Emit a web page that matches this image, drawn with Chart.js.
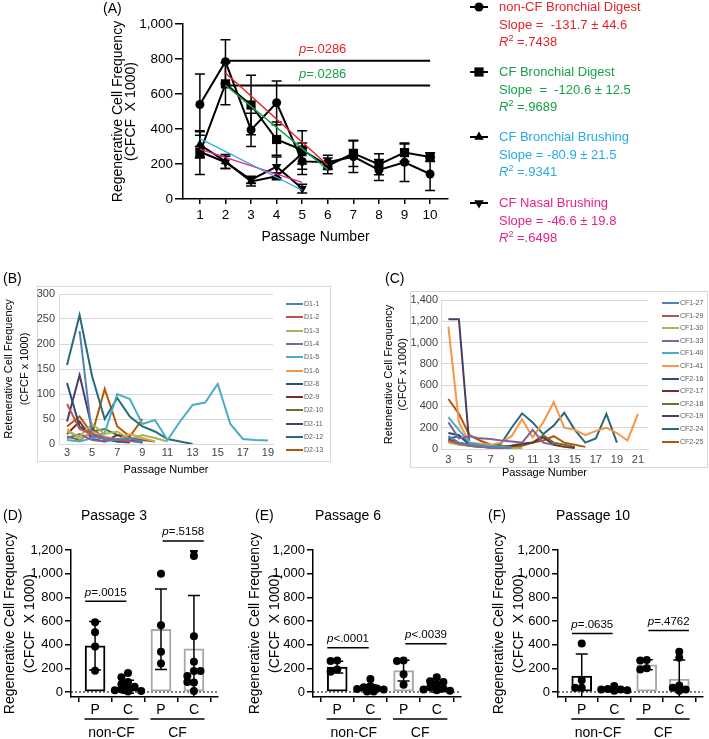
<!DOCTYPE html>
<html>
<head>
<meta charset="utf-8">
<script src="https://cdn.jsdelivr.net/npm/chart.js@4.4.1/dist/chart.umd.min.js"></script>
<style>
  body { margin: 0; background: #fff; font-family: "Liberation Sans", Arial, sans-serif; }
  #page { position: relative; width: 709px; height: 739px; overflow: hidden; }
  canvas { position: absolute; }
  .t { position: absolute; white-space: pre; line-height: 14px; font-size: 13px; }
  .t sup { font-size: 9px; vertical-align: 5px; line-height: 0; }
  .lab { position: absolute; white-space: pre; font-size: 14px; line-height: 16px; }
  .lg { position: absolute; white-space: pre; font-size: 7px; line-height: 8px; color: #595959; }
  .lgline { position: absolute; height: 2px; }
</style>
</head>
<body>
<div id="page">
  <canvas id="chartA" width="400" height="250" style="left:100px;top:0"></canvas>
  <canvas id="chartB" width="335" height="210" style="left:0;top:270px"></canvas>
  <canvas id="chartC" width="329" height="210" style="left:380px;top:270px"></canvas>
  <canvas id="chartD" width="230" height="239" style="left:0;top:500px"></canvas>
  <canvas id="chartE" width="230" height="239" style="left:235px;top:500px"></canvas>
  <canvas id="chartF" width="239" height="239" style="left:470px;top:500px"></canvas>

  <div class="lab" style="left:103px;top:0">(A)</div>
  <div class="lab" style="left:3px;top:270px">(B)</div>
  <div class="lab" style="left:385px;top:270px">(C)</div>
  <div class="lab" style="left:3px;top:507px">(D)</div>
  <div class="lab" style="left:255px;top:507px">(E)</div>
  <div class="lab" style="left:488px;top:507px">(F)</div>
  <div class="lab" style="left:64px;top:507px;width:100px;text-align:center">Passage 3</div>
  <div class="lab" style="left:298px;top:507px;width:100px;text-align:center">Passage 6</div>
  <div class="lab" style="left:543px;top:507px;width:100px;text-align:center">Passage 10</div>
  <div id="legendA"></div>
  <div id="legendB"></div>
  <div id="legendC"></div>
</div>
<script>
const FONT = '"Liberation Sans", Arial, sans-serif';
Chart.defaults.font.family = FONT;
Chart.defaults.color = '#000';
Chart.defaults.animation = false;

// ---------- (A) mean frequency per passage ----------
const passagesA = [1, 2, 3, 4, 5, 6, 7, 8, 9, 10];
const nonCfDigest   = [540, 785, 395, 550, 215, 210, 242, 166, 210, 143];
const nonCfDigestSd = [175, 125, 95, 125, 75, 40, 90, 60, 110, 95];
const cfDigest      = [265, 658, 537, 340, 280, 190, 261, 198, 265, 240];
const cfDigestSd    = [125, 120, 170, 100, 110, 45, 75, 60, 50, 25];
const cfBrushing    = [310, 215, 100, 130, 260];
const cfBrushingSd  = [75, 40, 25, 20, 60];
const nasalBrushing   = [270, 210, 110, 185, 60];
const nasalBrushingSd = [30, 35, 20, 65, 25];
// regression fits, passage range and fitted values at the ends
const fitNonCfX = [2, 6],   fitNonCfY = [720, 193];
const fitCfX = [2, 6],      fitCfY = [650, 168];
const fitBrushX = [1, 5],   fitBrushY = [345, 50];
const fitNasalX = [1, 5],   fitNasalY = [285, 95];
// significance bars
const sigX = [2, 10];
const sigY = [790, 649];
const sigLabels = ['p=.0286', 'p=.0286'];

// ---------- (B) non-CF donors ----------
const passagesB = [3, 4, 5, 6, 7, 8, 9, 10, 11, 12, 13, 14, 15, 16, 17, 18, 19];
const namesB = ['D1-1', 'D1-2', 'D1-3', 'D1-4', 'D1-5', 'D1-6', 'D2-8', 'D2-9', 'D2-10', 'D2-11', 'D2-12', 'D2-13'];
const D1_1  = [null, 226, 15, 10, 8, 12, 5];
const D1_2  = [80, 30, 20, 12, 8, 5];
const D1_3  = [25, 15, 40, 20, 25, 10, 18, 12, 5];
const D1_4  = [12, 20, 8, 5, 10, 6, 3];
const D1_5  = [8, 5, 12, 22, 100, 90, 40, 48, 8, 45, 78, 83, 120, 40, 10, 8, 7];
const D1_6  = [30, 10, 25, 15, 8, 20, 12, 5];
const D2_8  = [122, 35, 20, 10, 5, 3];
const D2_9  = [20, 45, 10, 5, 18, 12, 5];
const D2_10 = [15, 8, 25, 30, 18, 12, 8, 5];
const D2_11 = [45, 138, 30, 12, 5, 8, 3];
const D2_12 = [158, 258, 135, 50, 92, 55, 35, 25, 10, 5, 0];
const D2_13 = [35, 55, 20, 110, 35, 15, 50];
const seriesB = [D1_1, D1_2, D1_3, D1_4, D1_5, D1_6, D2_8, D2_9, D2_10, D2_11, D2_12, D2_13];
const ticksB = [3, 5, 7, 9, 11, 13, 15, 17, 19];

// ---------- (C) CF donors ----------
const passagesC = [3, 4, 5, 6, 7, 8, 9, 10, 11, 12, 13, 14, 15, 16, 17, 18, 19, 20, 21];
const namesC = ['CF1-27', 'CF1-29', 'CF1-30', 'CF1-33', 'CF1-40', 'CF1-41', 'CF2-16', 'CF2-17', 'CF2-18', 'CF2-19', 'CF2-24', 'CF2-25'];
const CF1_27 = [120, 60, 40, 30, 20, 15, 10];
const CF1_29 = [80, 50, 30, 20, 15, 10];
const CF1_30 = [60, 40, 30, 25, 20, 15, 10, 8];
const CF1_33 = [250, 100, 120, 100, 95, 80, 70, 60, 180, 60, 40];
const CF1_40 = [300, 180, 60, 40, 30, 20, 15];
const CF1_41 = [1150, 250, 60, 50, 40, 60, 120, 280, 110, 250, 440, 200, 180, 130, 170, 200, 150, 80, 330];
const CF2_16 = [150, 130, 40, 30, 20, 15, 10, 5];
const CF2_17 = [90, 60, 40, 30, 20, 15, 30, 50, 60, 110, 40, 20, 10];
const CF2_18 = [70, 50, 30, 20, 15, 20, 30, 40, 60, 130, 60, 40, 20];
const CF2_19 = [1220, 1220, 30, 20, 15, 10, 5];
const CF2_24 = [100, 120, 60, 40, 30, 50, 200, 335, 250, 140, 220, 340, 180, 60, 100, 330, 60];
const CF2_25 = [470, 330, 130, 80, 40, 30, 20, 30, 60, 80, 120, 60, 40, 20];
const seriesC = [CF1_27, CF1_29, CF1_30, CF1_33, CF1_40, CF1_41, CF2_16, CF2_17, CF2_18, CF2_19, CF2_24, CF2_25];
const ticksC = [3, 5, 7, 9, 11, 13, 15, 17, 19, 21];

// ---------- (D-F) parent vs clone at one passage ----------
const columns = ['P', 'C', 'P', 'C'];
const groups = ['non-CF', 'CF'];
const yTicksBar = [0, 200, 400, 600, 800, 1000, 1200];

const barsD = [390, 45, 530, 365];
const sdD   = [205, 55, 340, 450];
const dotsD = [
  [590, 505, 385, 180],
  [160, 125, 85, 65, 45, 30, 20, 15, 8, 5],
  [1000, 565, 340, 240],
  [1200, 1150, 470, 255, 178, 136, 178, 80, 85, 8]
];
const pLineD = [766, 1277];
const pTextD = ['p=.0015', 'p=.5158'];

const barsE = [210, 30, 180, 45];
const sdE   = [50, 30, 88, 45];
const dotsE = [
  [265, 262, 190, 170],
  [110, 50, 40, 30, 25, 20, 15, 10, 5, 5],
  [265, 262, 150, 60],
  [125, 90, 85, 60, 40, 30, 20, 15, 10]
];
const pLineE = [374, 408];
const pTextE = ['p<.0001', 'p<.0039'];

const barsF = [135, 20, 230, 110];
const sdF   = [185, 15, 43, 160];
const dotsF = [
  [410, 100, 35, 35],
  [50, 25, 20, 20, 15, 10],
  [270, 265, 200, 190],
  [340, 290, 55, 35, 20, 10]
];
const pLineF = [494, 519];
const pTextF = ['p=.0635', 'p=.4762'];

// ---------- helpers ----------
const pts = (xs, ys) => xs.map((x, i) => ({ x, y: ys[i] })).filter(p => p.y != null && p.y !== undefined);
const fmt = v => Number(v).toLocaleString('en-US');
const tickList = arr => scale => { scale.ticks = arr.map(v => ({ value: v })); };

function pText(ctx, cx, cy, label, color, size) {
  const head = label.charAt(0), tail = label.slice(1);
  ctx.save();
  ctx.font = `italic ${size}px ${FONT}`;
  const w1 = ctx.measureText(head).width;
  ctx.font = `${size}px ${FONT}`;
  const w2 = ctx.measureText(tail).width;
  const x0 = cx - (w1 + w2) / 2;
  ctx.fillStyle = color;
  ctx.textBaseline = 'middle';
  ctx.textAlign = 'left';
  ctx.font = `italic ${size}px ${FONT}`;
  ctx.fillText(head, x0, cy);
  ctx.font = `${size}px ${FONT}`;
  ctx.fillText(tail, x0 + w1, cy);
  ctx.restore();
}

// error bars (mean +/- SD) drawn right after their dataset
const errorBars = {
  id: 'errorBars',
  afterDatasetDraw(chart, args) {
    const ds = chart.data.datasets[args.index];
    if (!ds.sd) return;
    const { ctx, chartArea: area } = chart;
    const y = chart.scales.y;
    ctx.save();
    ctx.beginPath();
    ctx.rect(area.left - 20, 0, area.right - area.left + 40, area.bottom);
    ctx.clip();
    ctx.strokeStyle = '#000';
    ctx.lineWidth = 1.5;
    args.meta.data.forEach((el, i) => {
      const sd = ds.sd[i];
      if (sd == null) return;
      const v = ds.data[i].y;
      const top = y.getPixelForValue(v + sd), bot = y.getPixelForValue(v - sd), c = ds.sdCap;
      ctx.beginPath();
      ctx.moveTo(el.x, top); ctx.lineTo(el.x, bot);
      ctx.moveTo(el.x - c, top); ctx.lineTo(el.x + c, top);
      if (bot < area.bottom) { ctx.moveTo(el.x - c, bot); ctx.lineTo(el.x + c, bot); }
      ctx.stroke();
    });
    ctx.restore();
  }
};

// ---------- (A) ----------
const RED = '#e42328', GREEN = '#17a04b', BLUE = '#29a9e1', PINK = '#e5238d';

const markerSet = (label, ys, sd, style, r, rot) => ({
  label, data: pts(passagesA, ys), sd, sdCap: 5,
  borderColor: '#000', backgroundColor: '#000', borderWidth: 2,
  pointStyle: style, pointRadius: r, pointRotation: rot || 0, pointBorderWidth: 0
});
const plainLine = (xs, ys, color, w) => ({
  data: pts(xs, ys), borderColor: color, borderWidth: w, pointRadius: 0
});

const legendGlyphs = [
  { style: 'circle', r: 4.5, rot: 0, y: 7 },
  { style: 'rect', r: 6.5, rot: 0, y: 72 },
  { style: 'triangle', r: 5.5, rot: 0, y: 137 },
  { style: 'triangle', r: 5.5, rot: 180, y: 203 }
];

const panelAExtras = {
  id: 'panelAExtras',
  afterDatasetsDraw(chart) {
    const { ctx, scales: { x, y } } = chart;
    const colors = [RED, GREEN];
    sigY.forEach((v, i) => {
      pText(ctx, x.getPixelForValue(5.8), y.getPixelForValue(v) - 11.5, sigLabels[i], colors[i], 13);
    });
    ctx.save();
    legendGlyphs.forEach(g => {
      ctx.strokeStyle = '#000';
      ctx.lineWidth = 2;
      ctx.beginPath();
      ctx.moveTo(370, g.y); ctx.lineTo(388, g.y);
      ctx.stroke();
      ctx.fillStyle = '#000';
      Chart.helpers.drawPoint(ctx, { pointStyle: g.style, radius: g.r, rotation: g.rot, borderWidth: 0 }, 379, g.y);
    });
    ctx.restore();
  }
};

new Chart(document.getElementById('chartA'), {
  type: 'line',
  data: {
    datasets: [
      plainLine(fitNonCfX, fitNonCfY, RED, 1.5),
      plainLine(fitCfX, fitCfY, GREEN, 1.5),
      plainLine(fitBrushX, fitBrushY, BLUE, 1.2),
      plainLine(fitNasalX, fitNasalY, PINK, 1.5),
      plainLine(sigX, [sigY[0], sigY[0]], '#000', 2),
      plainLine(sigX, [sigY[1], sigY[1]], '#000', 2),
      markerSet('non-CF Bronchial Digest', nonCfDigest, nonCfDigestSd, 'circle', 4.5),
      markerSet('CF Bronchial Digest', cfDigest, cfDigestSd, 'rect', 6.5),
      markerSet('CF Bronchial Brushing', cfBrushing, cfBrushingSd, 'triangle', 5.5),
      markerSet('CF Nasal Brushing', nasalBrushing, nasalBrushingSd, 'triangle', 5.5, 180)
    ]
  },
  options: {
    responsive: false,
    layout: { padding: { top: 24, right: 52, left: 0, bottom: 0 } },
    plugins: { legend: { display: false }, tooltip: { enabled: false } },
    scales: {
      x: {
        type: 'linear', min: 0.34, max: 10.7,
        afterBuildTicks: tickList(passagesA),
        afterFit: s => { s.height = 51; },
        grid: { display: true, drawOnChartArea: false, drawTicks: true, tickLength: 5, color: '#000', lineWidth: 1.5 },
        border: { display: true, color: '#000', width: 1.5 },
        ticks: { font: { size: 13.5 }, padding: 3, maxRotation: 0, autoSkip: false, color: '#000' },
        title: { display: true, text: 'Passage Number', font: { size: 14 }, padding: { top: 0, bottom: 4.5 } }
      },
      y: {
        min: 0, max: 1000,
        afterFit: s => { s.width = 83; },
        grid: { display: true, drawOnChartArea: false, drawTicks: true, tickLength: 8, color: '#000', lineWidth: 1.5 },
        border: { display: true, color: '#000', width: 1.5 },
        ticks: { stepSize: 200, callback: fmt, font: { size: 13.5 }, padding: 2, color: '#000' },
        title: {
          display: true, text: ['Regenerative Cell Frequency', '(CFCF  X 1000)'],
          font: { size: 14, lineHeight: '13px' }, padding: { top: 11.5, bottom: 0 }
        }
      }
    }
  },
  plugins: [errorBars, panelAExtras]
});

// legend text for (A)
const legendA = [
  { color: RED, lines: ['non-CF Bronchial Digest', 'Slope =  -131.7 \u00b1 44.6', '<i>R</i><sup>2</sup> =.7438'], y: 7 },
  { color: GREEN, lines: ['CF Bronchial Digest', 'Slope  =  -120.6 \u00b1 12.5', '<i>R</i><sup>2</sup> =.9689'], y: 72 },
  { color: BLUE, lines: ['CF Bronchial Brushing', 'Slope = -80.9 \u00b1 21.5', '<i>R</i><sup>2</sup> =.9341'], y: 137 },
  { color: PINK, lines: ['CF Nasal Brushing', 'Slope = -46.6 \u00b1 19.8', '<i>R</i><sup>2</sup> =.6498'], y: 203 }
];
let htmlA = '';
legendA.forEach(g => {
  g.lines.forEach((ln, k) => {
    htmlA += `<div class="t" style="left:499px;top:${g.y - 7 + k * 17.5}px;color:${g.color}">${ln}</div>`;
  });
});
document.getElementById('legendA').innerHTML = htmlA;

// ---------- (B) and (C) Excel-style line charts ----------
const PALETTE = ['#4f81bd', '#c0504d', '#9bbb59', '#8064a2', '#4bacc6', '#f79646',
                 '#2c4d75', '#772c2a', '#5f7530', '#4d3b62', '#276a7c', '#b65708'];

function frame(rect) {
  return {
    id: 'frame',
    beforeDraw(chart) {
      const ctx = chart.ctx;
      ctx.save();
      ctx.strokeStyle = '#d9d9d9';
      ctx.lineWidth = 1;
      ctx.strokeRect(rect[0] + 0.5, rect[1] + 0.5, rect[2], rect[3]);
      ctx.restore();
    }
  };
}

function lineChart(id, cfg) {
  return new Chart(document.getElementById(id), {
    type: 'line',
    data: {
      datasets: cfg.series.map((ys, i) => ({
        label: cfg.names[i], data: pts(cfg.xs, ys),
        borderColor: PALETTE[i], backgroundColor: PALETTE[i], borderWidth: 2, pointRadius: 0
      }))
    },
    options: {
      responsive: false,
      layout: { padding: { top: cfg.top, right: cfg.right, left: 0, bottom: 0 } },
      plugins: { legend: { display: false }, tooltip: { enabled: false } },
      scales: {
        x: {
          type: 'linear', min: cfg.xMin, max: cfg.xMax,
          afterBuildTicks: tickList(cfg.xTicks),
          afterFit: s => { s.height = cfg.xHeight; },
          grid: { display: false, drawTicks: false },
          border: { display: true, color: '#d9d9d9' },
          ticks: { font: { size: 11 }, padding: cfg.xTickPad, maxRotation: 0, autoSkip: false, color: '#404040' },
          title: { display: true, text: 'Passage Number', font: { size: 11 }, padding: { top: 0, bottom: cfg.xTitlePad } }
        },
        y: {
          min: 0, max: cfg.yMax,
          afterFit: s => { s.width = cfg.yWidth; },
          grid: { color: '#d9d9d9', drawTicks: false },
          border: { display: true, color: '#d9d9d9' },
          ticks: { stepSize: cfg.yStep, callback: fmt, font: { size: 11 }, padding: cfg.yTickPad, color: '#404040' },
          title: {
            display: true, text: ['Retenerative Cell Frequency', '(CFCF x 1000)'],
            font: { size: 11, lineHeight: cfg.titleLh }, padding: { top: cfg.titlePad, bottom: 0 }
          }
        }
      }
    },
    plugins: [frame(cfg.box)]
  });
}

lineChart('chartB', {
  xs: passagesB, series: seriesB, names: namesB, xTicks: ticksB,
  xMin: 2.36, xMax: 19.4, yMax: 300, yStep: 50,
  top: 24, right: 62, yWidth: 59, xHeight: 36, xTickPad: 2, xTitlePad: 3, yTickPad: 4,
  titleLh: '16px', titlePad: 1, box: [37, 16, 293, 175]
});
lineChart('chartC', {
  xs: passagesC, series: seriesC, names: namesC, xTicks: ticksC,
  xMin: 2.3, xMax: 21.95, yMax: 1400, yStep: 200,
  top: 30, right: 61, yWidth: 61, xHeight: 31, xTickPad: 4, xTitlePad: 0, yTickPad: 3,
  titleLh: '14px', titlePad: 2, box: [30, 21, 297, 176]
});

function smallLegend(elId, names, x0, y0, step) {
  let h = '';
  names.forEach((n, i) => {
    const cy = y0 + i * step;
    h += `<div class="lgline" style="left:${x0}px;top:${cy - 1}px;width:17px;background:${PALETTE[i]}"></div>`;
    h += `<div class="lg" style="left:${x0 + 18}px;top:${cy - 4}px">${n}</div>`;
  });
  document.getElementById(elId).innerHTML = h;
}
smallLegend('legendB', namesB, 286, 304, 13.3);
smallLegend('legendC', namesC, 662, 303, 12.6);

// ---------- (D), (E), (F) bar + scatter panels ----------
const colPos = [1, 2, 3, 4];
const barColors = ['#000', '#000', '#a8a8a8', '#a8a8a8'];

// spread dots with close values sideways, column-scatter style
function swarm(vals, col) {
  const slots = [0, -1, 1, -2, 2];
  const placed = [];
  return vals.map(v => {
    const used = placed.filter(p => Math.abs(p.v - v) < 45).map(p => p.k);
    let k = slots.find(n => !used.includes(n));
    if (k === undefined) k = slots[used.length % slots.length] * 0.5;
    placed.push({ v, k });
    return { x: col + k * 0.2, y: v };
  });
}

function barExtras(pLine, pLabels) {
  return {
    id: 'barExtras',
    beforeDatasetsDraw(chart) {
      const { ctx, chartArea: a, scales: { y } } = chart;
      const y0 = y.getPixelForValue(0);
      ctx.save();
      ctx.strokeStyle = '#000';
      ctx.lineWidth = 1;
      ctx.setLineDash([2, 2]);
      ctx.beginPath();
      ctx.moveTo(a.left, y0); ctx.lineTo(a.right, y0);
      ctx.stroke();
      ctx.restore();
    },
    afterDraw(chart) {
      const { ctx, scales: { x, y } } = chart;
      ctx.save();
      ctx.strokeStyle = '#000';
      ctx.lineWidth = 1.5;
      // p-value brackets
      [[0.7, 1.95], [3.05, 4.3]].forEach((span, i) => {
        const py = y.getPixelForValue(pLine[i]);
        ctx.beginPath();
        ctx.moveTo(x.getPixelForValue(span[0]), py);
        ctx.lineTo(x.getPixelForValue(span[1]), py);
        ctx.stroke();
        pText(ctx, x.getPixelForValue((span[0] + span[1]) / 2), py - 9, pLabels[i], '#000', 11.5);
      });
      // group underlines and labels
      ctx.font = `14px ${FONT}`;
      ctx.fillStyle = '#000';
      ctx.textAlign = 'center';
      ctx.textBaseline = 'middle';
      groups.forEach((g, i) => {
        const l = x.getPixelForValue(2 * i + 0.68), r = x.getPixelForValue(2 * i + 2.32);
        ctx.beginPath();
        ctx.moveTo(l, 219); ctx.lineTo(r, 219);
        ctx.stroke();
        ctx.fillText(g, (l + r) / 2, 233);
      });
      ctx.restore();
    }
  };
}

function barPanel(id, cfg) {
  return new Chart(document.getElementById(id), {
    type: 'bar',
    data: {
      datasets: [
        {
          type: 'scatter', order: 0,
          data: cfg.dots.flatMap((vals, c) => swarm(vals, colPos[c])),
          pointRadius: 4, backgroundColor: '#000', borderColor: '#000', pointBorderWidth: 0
        },
        {
          type: 'bar', order: 1,
          data: pts(colPos, cfg.bars), sd: cfg.sd, sdCap: 6,
          backgroundColor: '#fff', borderColor: barColors, borderWidth: 2,
          borderSkipped: false, barThickness: 20, grouped: false
        }
      ]
    },
    options: {
      responsive: false,
      layout: { padding: { top: 50, right: cfg.right, left: 0, bottom: 0 } },
      plugins: { legend: { display: false }, tooltip: { enabled: false } },
      scales: {
        x: {
          type: 'linear', min: 0.27, max: 4.73, offset: false,
          afterBuildTicks: tickList(colPos),
          afterFit: s => { s.height = 42; },
          grid: { display: true, drawOnChartArea: false, drawTicks: true, tickLength: 5, color: '#000', lineWidth: 1.5 },
          border: { display: true, color: '#000', width: 1.5 },
          ticks: { callback: (v, i) => columns[i], font: { size: 14 }, padding: 0, maxRotation: 0, autoSkip: false, color: '#000' }
        },
        y: {
          min: -42.5, max: 1200,
          afterBuildTicks: tickList(yTicksBar),
          afterFit: s => { s.width = cfg.yWidth; },
          grid: { display: true, drawOnChartArea: false, drawTicks: true, tickLength: 6, color: '#000', lineWidth: 1.5 },
          border: { display: true, color: '#000', width: 1.5 },
          ticks: { callback: fmt, font: { size: 13 }, padding: 2, color: '#000' },
          title: {
            display: true, text: ['Regenerative Cell Frequency', '(CFCF  X 1000)'],
            font: { size: 14, lineHeight: '20px' }, padding: { top: cfg.titlePad, bottom: 0 }
          }
        }
      }
    },
    plugins: [errorBars, barExtras(cfg.pLine, cfg.pText)]
  });
}

barPanel('chartD', { bars: barsD, sd: sdD, dots: dotsD, pLine: pLineD, pText: pTextD, yWidth: 71, right: 12, titlePad: 0 });
barPanel('chartE', { bars: barsE, sd: sdE, dots: dotsE, pLine: pLineE, pText: pTextE, yWidth: 78, right: 3, titlePad: 10 });
barPanel('chartF', { bars: barsF, sd: sdF, dots: dotsF, pLine: pLineF, pText: pTextF, yWidth: 88, right: 6, titlePad: 19 });
</script>
</body>
</html>
